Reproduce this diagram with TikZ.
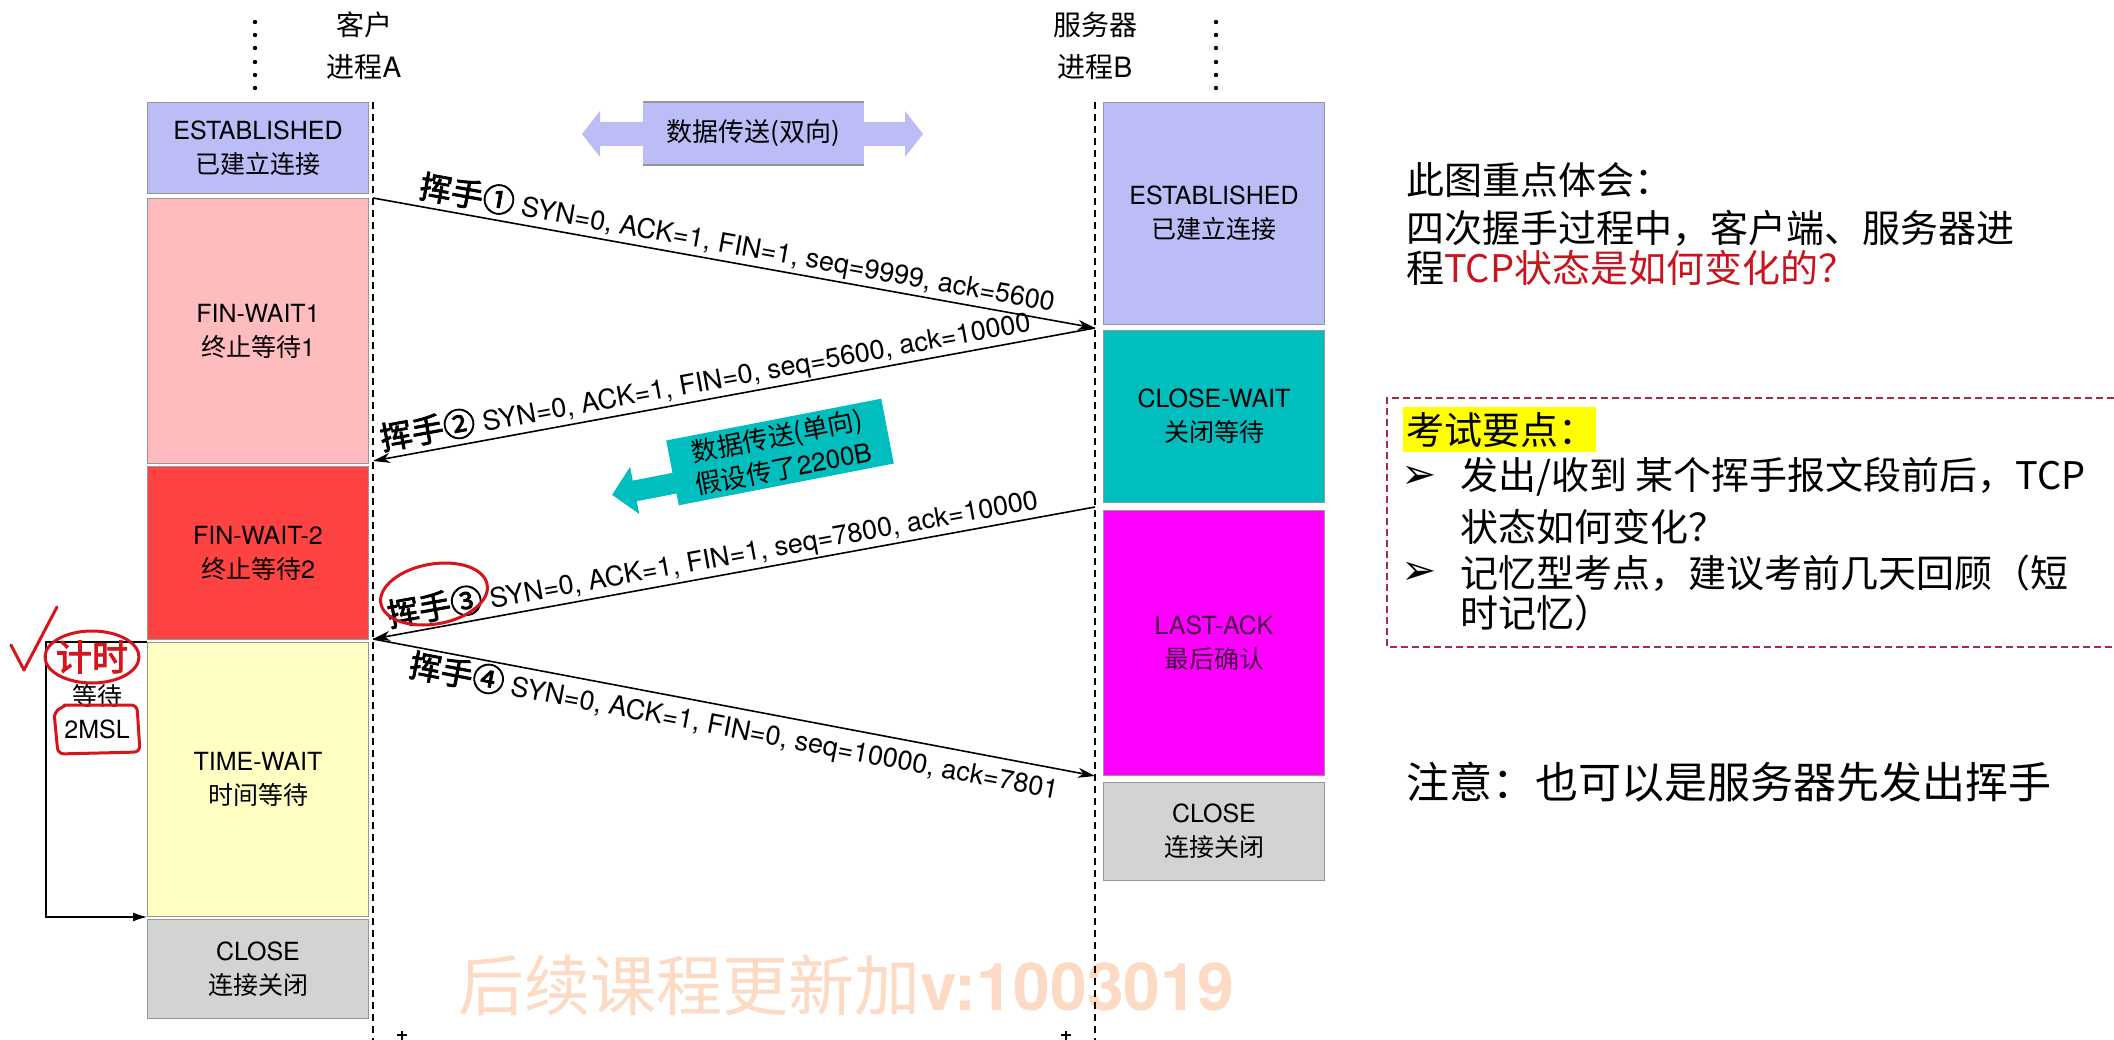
\documentclass[tikz,border=0pt]{standalone}
\usepackage{fontspec}
\setmainfont{TeX Gyre Heros}
\newfontfamily\cjk{Noto Sans CJK SC}
\newfontfamily\cjkb{Noto Sans CJK SC}[FakeBold=2.5]
\newfontfamily\symf{DejaVu Sans}
\usetikzlibrary{arrows.meta}
\newcommand\fsz[2]{\fontsize{#1}{#2}\selectfont}
\newcommand\hs[1]{{\cjkb\fsz{32}{32}#1}}
\newcommand\ms[1]{{\fsz{27}{27}#1}}

\definecolor{lav}{RGB}{188,188,246}
\definecolor{pinkst}{RGB}{255,188,190}
\definecolor{redst}{RGB}{255,66,66}
\definecolor{yelst}{RGB}{255,255,196}
\definecolor{grayst}{RGB}{211,211,211}
\definecolor{tealst}{RGB}{0,190,190}
\definecolor{magst}{RGB}{255,0,255}
\definecolor{edgegray}{RGB}{150,150,150}
\definecolor{handred}{RGB}{215,20,30}
\definecolor{qred}{RGB}{200,20,30}
\definecolor{examred}{RGB}{165,45,65}
\definecolor{wm}{RGB}{253,218,196}
\definecolor{hl}{RGB}{255,255,0}
\definecolor{darkpurple}{RGB}{70,0,70}

\begin{document}
\begin{tikzpicture}[x=1pt,y=-1pt,
  stbox/.style={draw=edgegray, line width=1pt, inner sep=0pt, minimum width=221pt,
                anchor=north west, align=center, font=\fsz{25}{34}},
  msg/.style={line width=1.6pt, -{Stealth[length=17pt,width=10pt,inset=5pt]}},
  lbl/.style={sloped, inner sep=2pt},
  lifeline/.style={line width=1.3pt, dash pattern=on 7pt off 5pt},
  hand/.style={draw=handred, line width=3pt, line cap=round, line join=round},
  side/.style={font=\cjk\fsz{38}{44}, anchor=west, inner sep=0pt},
  bullet/.style={font=\symf\fsz{42}{42}, inner sep=0pt},
]
% canvas
\fill[white] (0,0) rectangle (2114,1040);
\useasboundingbox (0,0) rectangle (2114,1040);

% watermark
\node[text=wm, font=\fsz{66}{66}] (wmark) at (846,985) {{\cjk 后续课程更新加}{\bfseries v:1003019}};

% dotted continuation above both processes
\foreach \yy in {22,35,48,62,75,88} {
  \fill (255,\yy) circle (2.2pt);
  \fill (1216,\yy) circle (2.2pt);
}

% process headers
\node[align=center, font=\fsz{28}{42}] (hdrA) at (364,46) {{\cjk 客户}\\{\cjk 进程}A};
\node[align=center, font=\fsz{28}{42}] (hdrB) at (1095,46) {{\cjk 服务器}\\{\cjk 进程}B};

% lifelines
\coordinate (cTop) at (373,102); \coordinate (cBot) at (373,1040);
\coordinate (sTop) at (1095,102); \coordinate (sBot) at (1095,1040);
\draw[lifeline] (cTop) -- (cBot);
\draw[lifeline] (sTop) -- (sBot);

% client states
\node[stbox, fill=lav, minimum height=91pt] (estA) at (147,102) {ESTABLISHED\\{\cjk 已建立连接}};
\node[stbox, fill=pinkst, minimum height=265pt] (fw1) at (147,198) {FIN-WAIT1\\{\cjk 终止等待}1};
\node[stbox, fill=redst, minimum height=173pt] (fw2) at (147,466) {FIN-WAIT-2\\{\cjk 终止等待}2};
\node[stbox, fill=yelst, minimum height=274pt] (tw) at (147,642) {TIME-WAIT\\{\cjk 时间等待}};
\node[stbox, fill=grayst, minimum height=99pt] (clA) at (147,919) {CLOSE\\{\cjk 连接关闭}};

% server states
\node[stbox, fill=lav, minimum height=222pt] (estB) at (1103,102) {ESTABLISHED\\{\cjk 已建立连接}};
\node[stbox, fill=tealst, minimum height=172pt] (cw) at (1103,330) {CLOSE-WAIT\\{\cjk 关闭等待}};
\node[stbox, fill=magst, minimum height=265pt, text=darkpurple] (la) at (1103,510) {LAST-ACK\\{\cjk 最后确认}};
\node[stbox, fill=grayst, minimum height=98pt] (clB) at (1103,782) {CLOSE\\{\cjk 连接关闭}};

% two-way data transfer
\fill[lav] (582,134) -- (600,111) -- (600,122) -- (643,122) -- (643,146) -- (600,146) -- (600,157) -- cycle;
\fill[lav] (923,134) -- (905,111) -- (905,122) -- (864,122) -- (864,146) -- (905,146) -- (905,157) -- cycle;
\node[fill=lav, minimum width=221pt, minimum height=63pt, inner sep=0pt, font=\cjk\fsz{26}{26}] (bidir) at (753.5,133.5) {数据传送(双向)};
\draw[edgegray, line width=1.5pt] (bidir.north west) -- (bidir.north east) (bidir.south west) -- (bidir.south east);

% one-way data transfer
\begin{scope}[shift={(780,452)}, rotate=11]
  \fill[tealst] (-108,0) -- (-150,0) -- (-150,-14) -- (-173,10) -- (-150,34) -- (-150,21) -- (-108,21) -- cycle;
  \node[fill=tealst, minimum width=219pt, minimum height=66pt, inner sep=0pt, rotate=11,
        align=center, font=\fsz{26}{33}] (uni) at (0,0) {{\cjk 数据传送(单向)}\\{\cjk 假设传了}2200B};
\end{scope}

% handshake segments
\coordinate (c1) at (373,198); \coordinate (s1) at (1095,328);
\coordinate (c2) at (373,461);
\coordinate (s3) at (1095,507); \coordinate (c3) at (373,639);
\coordinate (s4) at (1095,776);
\draw[msg] (c1) -- (s1) node[lbl, pos=0.5, above] {\hs{挥手①}\ms{ SYN=0, ACK=1, FIN=1, seq=9999, ack=5600}};
\draw[msg] (s1) -- (c2) node[lbl, pos=0.535, above] {\hs{挥手②}\ms{ SYN=0, ACK=1, FIN=0, seq=5600, ack=10000}};
\draw[msg] (s3) -- (c3) node[lbl, pos=0.525, above] {\hs{挥手③}\ms{ SYN=0, ACK=1, FIN=1, seq=7800, ack=10000}};
\draw[msg] (c3) -- (s4) node[lbl, pos=0.505, below] {\hs{挥手④}\ms{ SYN=0, ACK=1, FIN=0, seq=10000, ack=7801}};

% 2MSL timer
\draw[line width=1.3pt, -{Latex[length=14pt,width=9pt]}] (tw.north west) -- ++(-101,0) |- (tw.south west);
\node[font=\fsz{25}{33}, align=center] (wait2msl) at (97,712) {{\cjk 等待}\\2MSL};

% red pen marks
\draw[hand] (11,645) -- (24,670) -- (57,607);
\draw[hand] (92,657) ellipse [x radius=47pt, y radius=26pt];
\node[text=handred, font=\cjkb\fsz{36}{36}] (jishi) at (92,657) {计时};
\draw[hand, rounded corners=6pt] (64,705) -- (137,705) -- (140,752) -- (58,754) -- (54,712) -- (66,705);
\draw[hand, shift={(434,594)}, rotate=10] (0,0) ellipse [x radius=54pt, y radius=30pt];

% notes on the right
\node[side] (t1) at (1406,180) {此图重点体会：};
\node[side] (t2) at (1406,228) {四次握手过程中，客户端、服务器进};
\node[side] (t3) at (1406,268) {程\textcolor{qred}{TCP状态是如何变化的？}};

\draw[examred, line width=1.6pt, dash pattern=on 7pt off 4pt] (2114,398) -- (1387,398) -- (1387,647) -- (2114,647);
\fill[hl] (1403,407) rectangle (1596,452);
\node[side] (k0) at (1406,430) {考试要点：};
\node[bullet] (b1) at (1419,477) {➢};
\node[side] (k1) at (1460,477) {发出/收到 某个挥手报文段前后，TCP};
\node[side] (k2) at (1460,527) {状态如何变化？};
\node[bullet] (b2) at (1419,573) {➢};
\node[side] (k3) at (1460,573) {记忆型考点，建议考前几天回顾（短};
\node[side] (k4) at (1460,613) {时记忆）};
\node[side, font=\cjk\fsz{43}{43}] (note) at (1406,782) {注意：也可以是服务器先发出挥手};

% tick marks at the lower edge
\draw[line width=1.3pt] (402,1031) -- (402,1040) (397,1035) -- (407,1035);
\draw[line width=1.3pt] (1066,1031) -- (1066,1040) (1061,1035) -- (1071,1035);
\end{tikzpicture}
\end{document}
